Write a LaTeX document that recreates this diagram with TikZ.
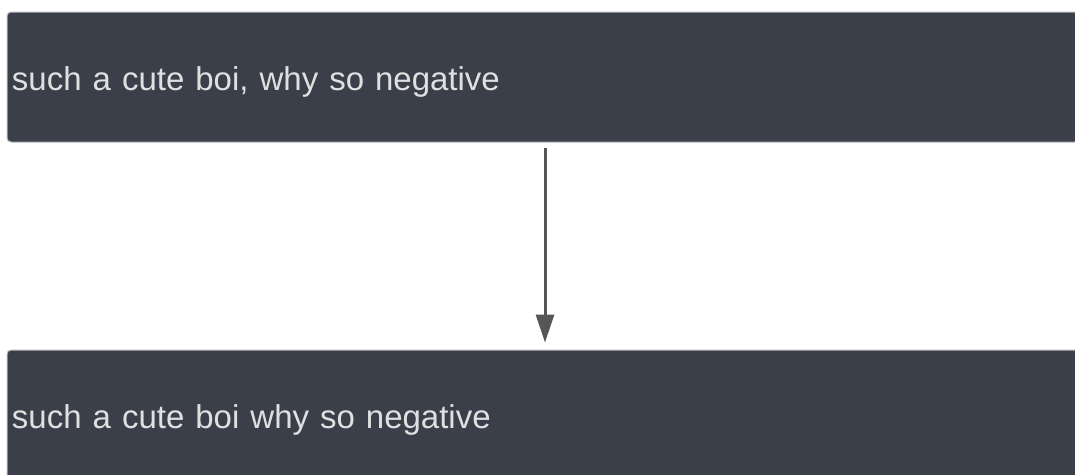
\documentclass[tikz,border=0pt]{standalone}
\usepackage{fontspec}
\setmainfont{Liberation Sans}
\usepackage{tikz}
\usetikzlibrary{arrows.meta}
\definecolor{cbox}{HTML}{3A3F4A}
\definecolor{cedge}{HTML}{B8BBC0}
\definecolor{ctext}{HTML}{E0E0E0}
\definecolor{cflow}{HTML}{565656}
\tikzset{
  msgbox/.style={draw=cedge, line width=1pt, fill=cbox, rounded corners=4pt, text=ctext,
    minimum height=130pt, text width=1073pt, inner xsep=5pt, align=left,
    text height=26pt, text depth=0pt,
    font=\fontsize{33}{40}\selectfont},
  flow/.style={-{Triangle[length=28pt, width=18pt]}, line width=3pt, draw=cflow},
}
\begin{document}
\begin{tikzpicture}[x=1pt,y=-1pt]
\useasboundingbox (0,0) rectangle (1075,474);
\node[msgbox] (top) at (548.5,77) {such a cute boi, why so negative};
\node[msgbox] (bottom) at (548.5,415) {such a cute boi why so negative};
\draw[flow, shorten <=5pt, shorten >=7pt] ([xshift=-3.5pt]top.south) -- ([xshift=-3.5pt]bottom.north);
\end{tikzpicture}
\end{document}
